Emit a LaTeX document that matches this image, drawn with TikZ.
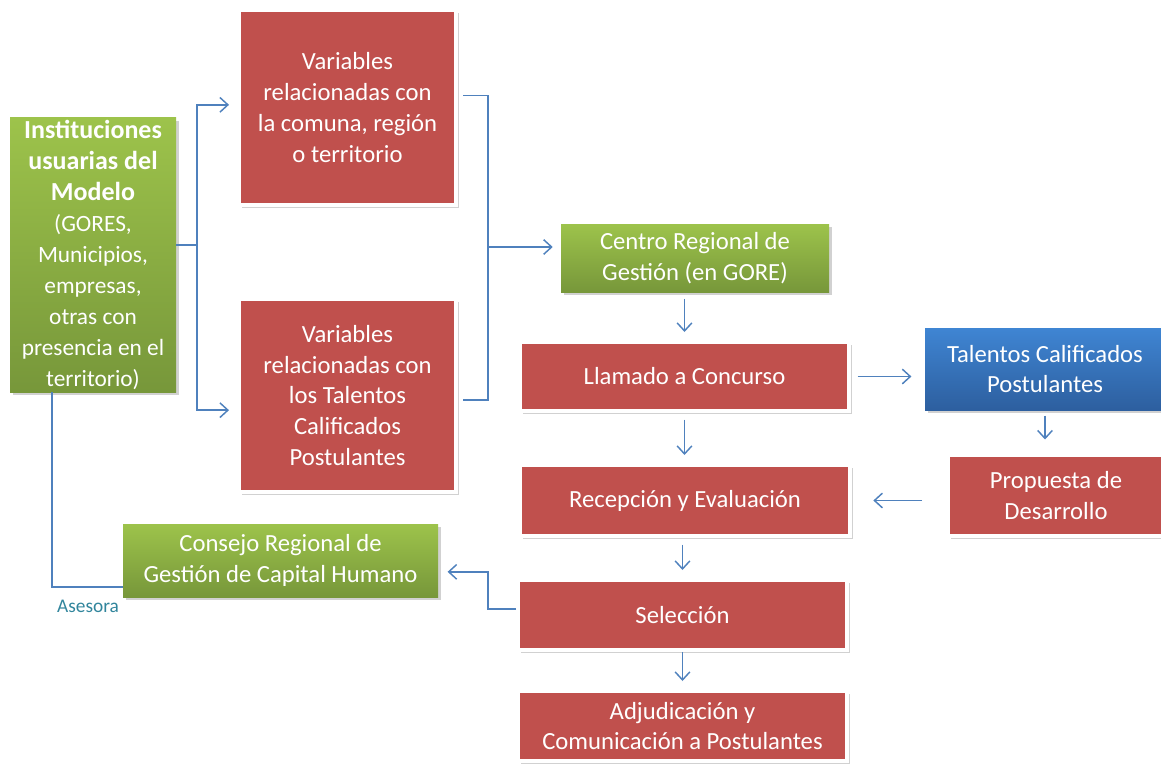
\documentclass[tikz,border=0pt]{standalone}
\usepackage{fontspec}
\setmainfont{Carlito}
\usetikzlibrary{arrows.meta,shadows}
\definecolor{boxred}{HTML}{C0504D}
\definecolor{lineblue}{HTML}{4F81BD}
\definecolor{greentop}{HTML}{9DC34B}
\definecolor{greenbot}{HTML}{77973A}
\definecolor{bluetop}{HTML}{3F85D3}
\definecolor{bluebot}{HTML}{2D5F9F}
\definecolor{asesoracol}{HTML}{31859C}
\newcommand{\instbig}{\bfseries\fontsize{19.5}{24.5}\selectfont}
\newcommand{\instsmall}{\mdseries\fontsize{17.5}{22}\selectfont}
\begin{document}
\begin{tikzpicture}[x=0.75pt, y=-0.75pt,
  every node/.style = {align=center, text=white, inner sep=2pt,
    font=\fontsize{18.5}{23.2}\selectfont},
  boxshadow/.style = {drop shadow={shadow xshift=2pt, shadow yshift=-2pt,
    opacity=.18, fill=black}},
  redbox/.style = {fill=boxred, draw=white, line width=3pt, boxshadow},
  greenbox/.style = {top color=greentop, bottom color=greenbot, boxshadow},
  bluebox/.style = {top color=bluetop, bottom color=bluebot, boxshadow},
  conn/.style = {draw=lineblue, line width=1.1pt},
  arr/.style = {conn, -{Straight Barb[length=6pt,width=11pt]},
    shorten <=5pt, shorten >=6pt}]
  \useasboundingbox (0,0) rectangle (1161,764);
  % left side
  \node[greenbox, minimum width=124.5pt, minimum height=202.5pt] (inst) at (93,255)
    {\instbig Instituciones\\\instbig usuarias del\\\instbig Modelo\\
     \instsmall (GORES,\\\instsmall Municipios,\\\instsmall empresas,\\
     \instsmall otras con\\\instsmall presencia en el\\\instsmall territorio)};
  \node[redbox, minimum width=162.75pt, minimum height=146.25pt] (varcom) at (347.5,107.5)
    {Variables\\relacionadas con\\la comuna, región\\o territorio};
  \node[redbox, minimum width=162.75pt, minimum height=144.75pt] (vartal) at (347.5,395.5)
    {Variables\\relacionadas con\\los Talentos\\Calificados\\Postulantes};
  \node[greenbox, minimum width=236.25pt, minimum height=54.75pt] (consejo) at (280.5,560.5)
    {Consejo Regional de\\Gestión de Capital Humano};
  % middle column
  \node[greenbox, minimum width=201pt, minimum height=51pt] (centro) at (695,258)
    {Centro Regional de\\Gestión (en GORE)};
  \node[redbox, minimum width=246.75pt, minimum height=51.75pt] (llamado) at (684.5,376.5)
    {Llamado a Concurso};
  \node[redbox, minimum width=247.5pt, minimum height=53.25pt] (recep) at (685,500.5)
    {Recepción y Evaluación};
  \node[redbox, minimum width=246.75pt, minimum height=52.5pt] (selec) at (682.5,615)
    {Selección};
  \node[redbox, minimum width=246.75pt, minimum height=52.5pt] (adjud) at (682.5,726)
    {Adjudicación y\\Comunicación a Postulantes};
  % right column
  \node[bluebox, minimum width=180pt, minimum height=61.5pt] (talentos) at (1045,369)
    {Talentos Calificados\\Postulantes};
  \node[redbox, minimum width=162pt, minimum height=61pt] (propuesta) at (1056,495.5)
    {Propuesta de\\Desarrollo};

  % connectors
  \coordinate (split) at (197,245);
  \coordinate (brack) at (488,247);
  \coordinate (back) at (488,590);
  \coordinate (ases) at (52,587);
  \draw[conn] (inst.east |- split) -- (split);
  \draw[arr, shorten <=0pt] (split) |- ([yshift=2pt]varcom.west);
  \draw[arr, shorten <=0pt] (split) |- ([yshift=-11pt]vartal.west);
  \draw[conn] ([xshift=4pt,yshift=9pt]varcom.east) -| (brack)
    |- ([xshift=4pt,yshift=-3.5pt]vartal.east);
  \draw[arr, shorten <=0pt] (brack) -- (brack -| centro.west);
  \draw[arr] (llamado.north |- centro.south) -- (llamado.north);
  \draw[arr] (llamado.south) -- (recep.north -| llamado.south);
  \draw[arr] (recep.south -| selec.north) -- (selec.north);
  \draw[arr, shorten <=0pt] (selec.south) -- (adjud.north);
  \draw[arr, shorten >=10pt] (llamado.east) -- (llamado.east -| talentos.west);
  \draw[arr, shorten <=4pt, shorten >=10pt] (talentos.south) -- (talentos.south |- propuesta.north);
  \draw[arr, shorten <=18pt, shorten >=16pt] (propuesta.west |- recep.east) -- (recep.east);
  \draw[arr, shorten <=0pt, shorten >=7pt] ([yshift=4.5pt]selec.west) -| (back)
    |- ([yshift=-8.5pt]consejo.east);
  \draw[conn] (inst.south -| ases) |- ([yshift=-20pt]consejo.west);
  \node[text=asesoracol, font=\fontsize{14.5}{17}\selectfont] (asesora) at (88,606) {Asesora};
\end{tikzpicture}
\end{document}
